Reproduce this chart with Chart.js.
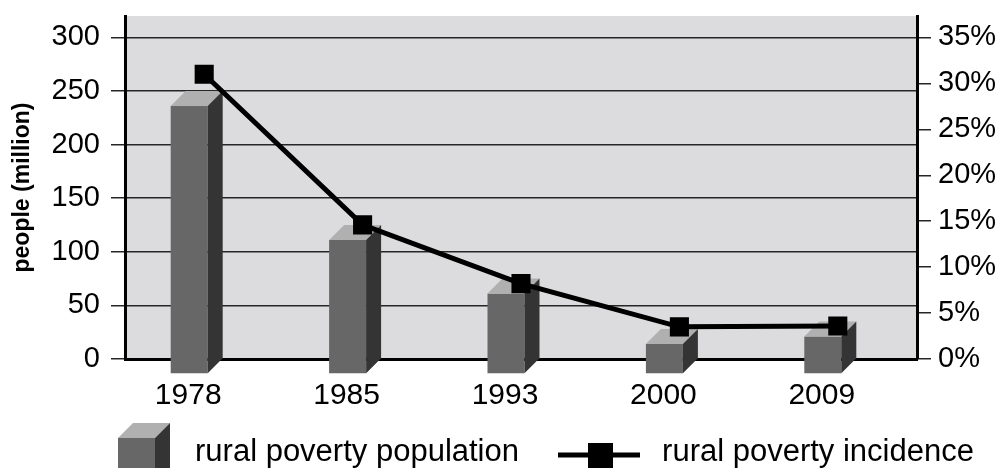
<!DOCTYPE html>
<html>
<head>
<meta charset="utf-8">
<script src="https://cdn.jsdelivr.net/npm/chart.js@4.4.1/dist/chart.umd.min.js"></script>
<style>
  html, body { margin: 0; padding: 0; background: #fff; }
  #wrap { width: 1002px; height: 468px; position: relative; }
</style>
</head>
<body>
<div id="wrap"><canvas id="chart"></canvas></div>
<script>
const years       = ['1978', '1985', '1993', '2000', '2009'];
const poorPeople  = [250, 125, 75, 28, 35];        // million
const incidence   = [31.0, 14.6, 8.2, 3.5, 3.6];    // percent
const leftTicks   = [0, 50, 100, 150, 200, 250, 300];
const rightTicks  = [0, 5, 10, 15, 20, 25, 30, 35];
const seriesNames = ['rural poverty population', 'rural poverty incidence'];

const FONT = "'Liberation Sans', Arial, Helvetica, sans-serif";
const DEPTH = 15;
const FRONT = '#676767', TOP = '#b0b0b0', SIDE = '#343434';
const GRID = '#262626';

function drawBox(ctx, l, r, top, base) {
    const d = DEPTH;
    ctx.fillStyle = FRONT;
    ctx.fillRect(l - d, top + d, r - l, base - top);
    ctx.fillStyle = TOP;
    ctx.beginPath();
    ctx.moveTo(l - d, top + d); ctx.lineTo(r - d, top + d);
    ctx.lineTo(r, top); ctx.lineTo(l, top);
    ctx.closePath(); ctx.fill();
    ctx.fillStyle = SIDE;
    ctx.beginPath();
    ctx.moveTo(r - d, top + d); ctx.lineTo(r, top);
    ctx.lineTo(r, base); ctx.lineTo(r - d, base + d);
    ctx.closePath(); ctx.fill();
}

const plotBg = {
    id: 'plotBg',
    beforeDraw(chart) {
        const { ctx, chartArea: a } = chart;
        ctx.save();
        ctx.fillStyle = '#dcdcde';
        ctx.fillRect(a.left, a.top, a.right - a.left, a.bottom - a.top);
        ctx.restore();
    }
};

const bars3d = {
    id: 'bars3d',
    afterDatasetDraw(chart, args) {
        if (args.meta.type !== 'bar') return;
        const ctx = chart.ctx;
        ctx.save();
        args.meta.data.forEach(bar => {
            const w = bar.width;
            drawBox(ctx, bar.x - w / 2, bar.x + w / 2, bar.y, bar.base);
        });
        ctx.restore();
    }
};

const legend3d = {
    id: 'legend3d',
    afterDraw(chart) {
        const ctx = chart.ctx;
        ctx.save();
        // cube icon
        drawBox(ctx, 133, 170, 423, 470);
        // line icon
        ctx.strokeStyle = '#000';
        ctx.lineWidth = 5;
        ctx.beginPath(); ctx.moveTo(558, 455); ctx.lineTo(640, 455); ctx.stroke();
        ctx.fillStyle = '#000';
        ctx.fillRect(588, 443, 25, 25);
        ctx.font = '31px ' + FONT;
        ctx.textBaseline = 'alphabetic';
        ctx.textAlign = 'center';
        ctx.fillText(seriesNames[0], 357, 461);
        ctx.fillText(seriesNames[1], 818, 461);
        ctx.restore();
    }
};

const noPad = s => { s.paddingTop = 0; s.paddingBottom = 0; };

new Chart(document.getElementById('chart'), {
    type: 'bar',
    data: {
        labels: years,
        datasets: [
            {
                type: 'line', label: seriesNames[1], data: incidence, yAxisID: 'y1', order: 0,
                borderColor: '#000', borderWidth: 5, tension: 0,
                pointStyle: 'rect', pointRadius: 13.5, pointBorderWidth: 0,
                pointBackgroundColor: '#000'
            },
            {
                label: seriesNames[0], data: poorPeople, yAxisID: 'y', order: 1,
                backgroundColor: 'rgba(0,0,0,0)', barThickness: 37
            }
        ]
    },
    options: {
        responsive: true,
        maintainAspectRatio: false,
        animation: false,
        events: [],
        layout: { padding: { top: 16, left: 0, right: 0, bottom: 0 } },
        plugins: { legend: { display: false }, tooltip: { enabled: false } },
        scales: {
            x: {
                grid: { display: false },
                border: { color: '#000', width: 3 },
                ticks: { color: '#000', font: { family: FONT, size: 30 }, padding: 11, labelOffset: -16 },
                afterFit: s => { s.height = 109; s.paddingLeft = 0; s.paddingRight = 0; }
            },
            y: {
                position: 'left', min: 0, max: 320,
                afterBuildTicks: s => { s.ticks = leftTicks.map(v => ({ value: v })); },
                grid: { color: GRID, lineWidth: 1.5, tickLength: 14 },
                border: { color: '#000', width: 3 },
                ticks: { color: '#000', font: { family: FONT, size: 29 }, padding: 11 },
                title: { display: true, text: 'people (million)', color: '#000',
                         font: { family: FONT, size: 23, weight: 'bold' }, padding: { top: 9, bottom: 0 } },
                afterFit: s => { s.width = 125; noPad(s); }
            },
            y1: {
                position: 'right', min: 0, max: 35 * 320 / 300,
                afterBuildTicks: s => { s.ticks = rightTicks.map(v => ({ value: v })); },
                grid: { drawOnChartArea: false, color: GRID, lineWidth: 1.5, tickLength: 14 },
                border: { color: '#000', width: 3 },
                ticks: { color: '#000', font: { family: FONT, size: 29 }, padding: 7, callback: v => v + '%' },
                afterFit: s => { s.width = 85; noPad(s); }
            }
        }
    },
    plugins: [plotBg, bars3d, legend3d]
});
</script>
</body>
</html>
